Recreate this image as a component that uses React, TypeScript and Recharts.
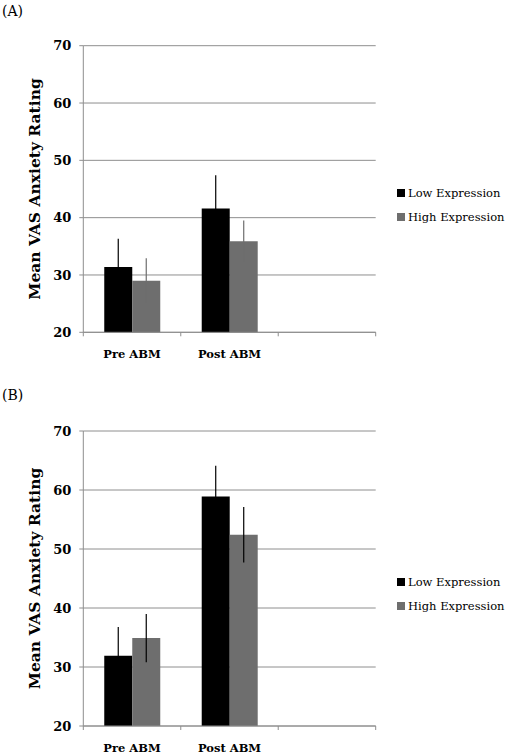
import React from 'react';
import { BarChart, Bar, XAxis, YAxis, CartesianGrid, Legend, ErrorBar } from 'recharts';

const categories = ['Pre ABM', 'Post ABM', ''];
const yTicks = [20, 30, 40, 50, 60, 70];

const aLow = [31.4, 41.6, null];
const aLowErr = [4.9, 5.8, null];
const aHigh = [29.0, 35.9, null];
const aHighErr = [3.9, 3.6, null];

const bLow = [31.9, 58.9, null];
const bLowErr = [4.9, 5.2, null];
const bHigh = [34.9, 52.4, null];
const bHighErr = [4.1, 4.7, null];

const seriesNames = ['Low Expression', 'High Expression'];

const BLACK = '#000000';
const GRAY = '#6e6e6e';
const LINE = '#8e8e8e';
const SERIF = '"DejaVu Serif", "Liberation Serif", serif';

const W = 505;
const Y_AXIS_W = 83.3;
const MARGIN_RIGHT = 129.3;
const PLOT_W = W - Y_AXIS_W - MARGIN_RIGHT;
const HALF_BAND = PLOT_W / categories.length / 2;

function buildRows(low: (number | null)[], lowErr: (number | null)[], high: (number | null)[], highErr: (number | null)[]) {
  return categories.map((c, i) => ({
    name: c,
    low: low[i],
    lowErr: lowErr[i],
    high: high[i],
    highErr: highErr[i],
  }));
}

const dataA = buildRows(aLow, aLowErr, aHigh, aHighErr);
const dataB = buildRows(bLow, bLowErr, bHigh, bHighErr);

const XTick = (props: any) => {
  const { x, y, payload, index, visibleTicksCount } = props;
  return (
    <g>
      <line x1={x - HALF_BAND} x2={x - HALF_BAND} y1={y} y2={y + 4} stroke={LINE} strokeWidth={1} />
      {index === visibleTicksCount - 1 && (
        <line x1={x + HALF_BAND} x2={x + HALF_BAND} y1={y} y2={y + 4} stroke={LINE} strokeWidth={1} />
      )}
      <text
        x={x}
        y={y + 22}
        textAnchor="middle"
        dominantBaseline="central"
        fontFamily={SERIF}
        fontWeight="bold"
        fontSize={11.5}
        fill="#000"
      >
        {payload.value}
      </text>
    </g>
  );
};

const LegendContent = (props: any) => {
  const payload = [...(props.payload || [])].sort(
    (a: any, b: any) => seriesNames.indexOf(a.value) - seriesNames.indexOf(b.value)
  );
  return (
    <div>
      {payload.map((p: any, i: number) => (
        <div key={i} style={{ display: 'flex', alignItems: 'center', height: 24, whiteSpace: 'nowrap' }}>
          <span style={{ display: 'inline-block', width: 8, height: 8, background: p.color, marginRight: 3 }} />
          <span style={{ fontFamily: SERIF, fontSize: 11.5, color: '#000' }}>{p.value}</span>
        </div>
      ))}
    </div>
  );
};

type PanelProps = {
  data: any[];
  height: number;
  top: number;
  bottom: number;
  xAxisH: number;
  legendTop: number;
  highErrColor: string;
};

const Panel = ({ data, height, top, bottom, xAxisH, legendTop, highErrColor }: PanelProps) => (
  <BarChart
    width={W}
    height={height}
    data={data}
    margin={{ top, right: MARGIN_RIGHT, left: 0, bottom }}
    barCategoryGap="21.5%"
    barGap={0}
  >
    <CartesianGrid horizontal vertical={false} stroke={LINE} strokeWidth={1} />
    <XAxis
      dataKey="name"
      interval={0}
      height={xAxisH}
      tickSize={0}
      tickMargin={0}
      axisLine={{ stroke: LINE, strokeWidth: 1 }}
      tickLine={false}
      tick={<XTick />}
    />
    <YAxis
      domain={[20, 70]}
      ticks={yTicks}
      width={Y_AXIS_W}
      tickSize={4}
      tickMargin={8}
      axisLine={{ stroke: LINE, strokeWidth: 1 }}
      tickLine={{ stroke: LINE, strokeWidth: 1 }}
      tick={{ fontFamily: SERIF, fontWeight: 'bold', fontSize: 13, fill: '#000' }}
      label={{
        value: 'Mean VAS Anxiety Rating',
        angle: -90,
        position: 'center',
        dx: -7,
        style: { fontFamily: SERIF, fontWeight: 'bold', fontSize: 15.5, fill: '#000', textAnchor: 'middle' },
      }}
    />
    <Legend
      layout="horizontal"
      verticalAlign="middle"
      align="center"
      content={<LegendContent />}
      wrapperStyle={{ left: 397, top: legendTop, width: 'auto' }}
    />
    <Bar dataKey="low" name={seriesNames[0]} fill={BLACK} isAnimationActive={false}>
      <ErrorBar dataKey="lowErr" width={0} stroke={BLACK} strokeWidth={1.2} direction="y" isAnimationActive={false} />
    </Bar>
    <Bar dataKey="high" name={seriesNames[1]} fill={GRAY} isAnimationActive={false}>
      <ErrorBar dataKey="highErr" width={0} stroke={highErrColor} strokeWidth={1.2} direction="y" isAnimationActive={false} />
    </Bar>
  </BarChart>
);

export default function App() {
  return (
    <div style={{ position: 'absolute', left: 0, top: 0, width: 505, height: 754, background: '#fff' }}>
      <div style={{ position: 'absolute', left: 2, top: 3, fontFamily: SERIF, fontSize: 14, color: '#000' }}>(A)</div>
      <div style={{ position: 'absolute', left: 2, top: 387, fontFamily: SERIF, fontSize: 14, color: '#000' }}>(B)</div>
      <div style={{ position: 'absolute', left: 0, top: 0 }}>
        <Panel data={dataA} height={370} top={45.7} bottom={7.7} xAxisH={30} legendTop={180.5} highErrColor={GRAY} />
      </div>
      <div style={{ position: 'absolute', left: 0, top: 370 }}>
        <Panel data={dataB} height={384} top={61} bottom={8} xAxisH={20} legendTop={199.5} highErrColor={BLACK} />
      </div>
    </div>
  );
}
